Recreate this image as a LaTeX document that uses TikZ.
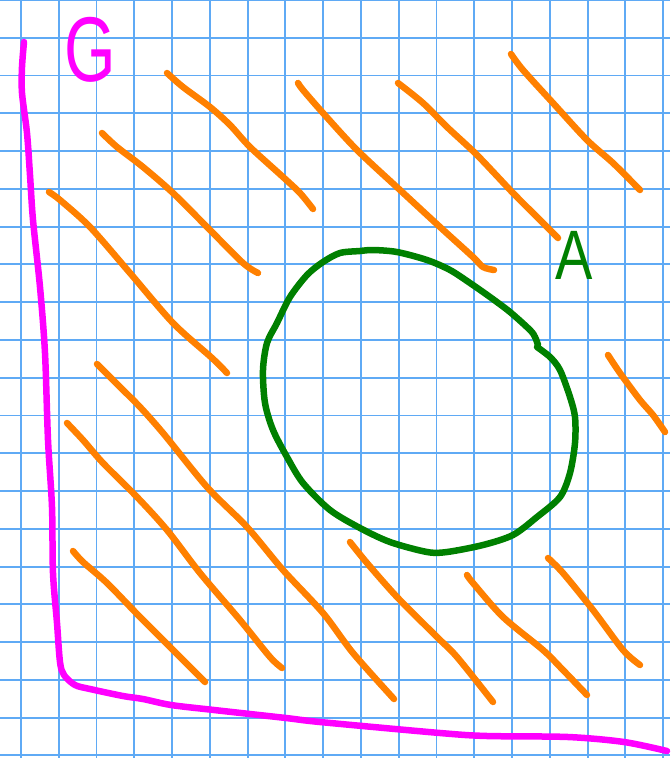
\documentclass[tikz,border=0pt]{standalone}
\usepackage{fontspec}
\setmainfont{Liberation Sans}
\definecolor{gridblue}{RGB}{95,170,245}
\definecolor{penorange}{RGB}{255,128,0}
\definecolor{penmagenta}{RGB}{255,0,255}
\definecolor{pengreen}{RGB}{0,128,0}
\begin{document}
\begin{tikzpicture}[x=1pt,y=-1pt,
  gridline/.style={gridblue,line width=1.9pt},
  hatch/.style={penorange,line width=6.5pt,line cap=round,line join=round},
  border/.style={penmagenta,line width=6.5pt,line cap=round,line join=round},
  region/.style={pengreen,line width=6.5pt,line cap=round,line join=round},
  letter/.style={inner sep=0pt,anchor=base}]
\fill[white] (0,0) rectangle (670,758);
\useasboundingbox (0,0) rectangle (670,758);
% grid paper
\foreach \k in {0,...,20} {\draw[gridline] (0,\k*37.77) -- (670,\k*37.77);}
\foreach \k in {0,...,17} {\draw[gridline] (21+\k*37.77,0) -- (21+\k*37.77,758);}
% magenta boundary
\draw[border] plot[smooth,tension=0.5] coordinates {(24,42) (22,67) (22,93) (27,133) (30,175) (33,220) (40,287) (45,353) (48,440) (52,507) (53,573) (57,623) (60,662) (64,675) (75,685) (90,689) (123,696) (143,699) (171,705) (214,710) (286,718) (320,722) (440,733) (487,736) (568,737) (624,742) (667,751)};
% orange hatching
\draw[hatch] plot[smooth,tension=0.5] coordinates {(167,73) (183,87) (210,107) (230,125) (250,147) (283,177) (300,193) (313,209)};
\draw[hatch] plot[smooth,tension=0.5] coordinates {(298,83) (303,90) (323,113) (357,150) (400,190) (440,227) (473,257) (483,267) (494,270)};
\draw[hatch] plot[smooth,tension=0.5] coordinates {(398,83) (423,103) (447,127) (477,155) (513,193) (540,220) (558,238)};
\draw[hatch] plot[smooth,tension=0.5] coordinates {(511,54) (523,70) (553,103) (587,140) (613,163) (640,190)};
\draw[hatch] plot[smooth,tension=0.5] coordinates {(102,133) (117,147) (143,167) (173,193) (210,230) (243,263) (258,273)};
\draw[hatch] plot[smooth,tension=0.5] coordinates {(49,192) (60,200) (90,227) (130,273) (173,323) (212,358) (227,373)};
\draw[hatch] plot[smooth,tension=0.5] coordinates {(608,355) (620,373) (640,400) (653,415) (665,432)};
\draw[hatch] plot[smooth,tension=0.5] coordinates {(97,364) (120,387) (140,407) (163,433) (207,487) (247,527) (283,570) (323,613) (353,653) (394,699)};
\draw[hatch] plot[smooth,tension=0.5] coordinates {(67,423) (83,440) (103,463) (137,497) (167,530) (200,573) (240,620) (270,657) (282,668)};
\draw[hatch] plot[smooth,tension=0.5] coordinates {(73,551) (83,562) (107,583) (140,617) (173,650) (205,682)};
\draw[hatch] plot[smooth,tension=0.5] coordinates {(350,542) (367,563) (397,597) (437,637) (457,657) (493,702)};
\draw[hatch] plot[smooth,tension=0.5] coordinates {(467,575) (473,583) (503,617) (543,650) (563,670) (587,695)};
\draw[hatch] plot[smooth,tension=0.5] coordinates {(548,558) (563,573) (593,610) (623,650) (640,665)};
% green region
\draw[region] plot[smooth,tension=0.5] coordinates {(537,347) (550,357) (560,370) (570,397) (575,417) (575,443) (570,473) (560,497) (537,517) (513,535) (483,545) (447,552) (427,552) (390,542) (360,528) (330,510) (303,483) (287,457) (273,430) (265,403) (263,370) (267,343) (277,323) (290,297) (307,275) (323,262) (340,253) (360,251) (373,250) (397,252) (427,260) (450,270) (470,283) (490,297) (510,312) (530,330) (535,337) (538,345)};
% labels
\node[letter,text=penmagenta,font=\fontsize{92}{92}\selectfont,xscale=0.72] (g) at (90,81) {G};
\node[letter,text=pengreen,font=\fontsize{70}{70}\selectfont,xscale=0.8] (a) at (574,279) {A};
\end{tikzpicture}
\end{document}
